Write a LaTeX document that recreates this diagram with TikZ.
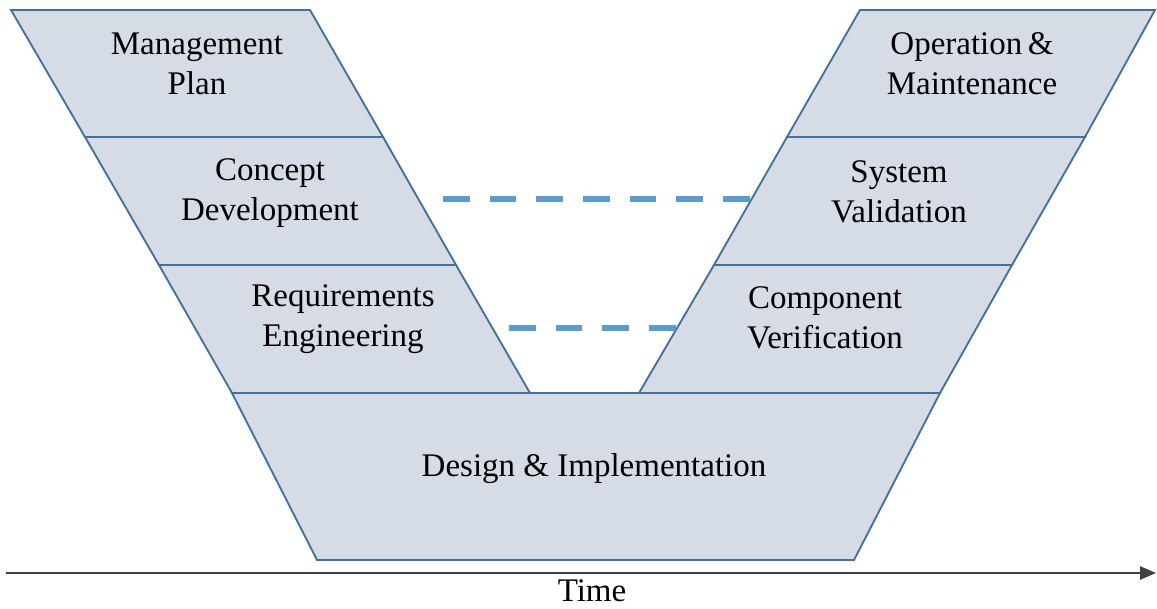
\documentclass[tikz,border=0pt]{standalone}
\usepackage{fontspec}
\setmainfont{Liberation Serif}
\usepackage{xcolor}
\usetikzlibrary{arrows.meta}

\definecolor{stagefill}{HTML}{D6DCE5}
\definecolor{stageline}{HTML}{41719C}
\definecolor{linkblue}{HTML}{5B9BD5}
\definecolor{axisgray}{HTML}{404040}

\begin{document}
\begin{tikzpicture}[
  x=0.75pt, y=-0.75pt,
  stage/.style={
    fill=stagefill,
    draw=stageline,
    line width=1.4pt,
    line join=miter
  },
  stagetext/.style={
    align=center,
    inner sep=0pt,
    font=\fontsize{24.75}{30}\selectfont
  },
  vlink/.style={
    draw=linkblue,
    line width=3.8pt,
    dash pattern=on 20pt off 15pt
  },
  timeaxis/.style={
    -{Triangle[length=12pt,width=10pt]},
    draw=axisgray,
    line width=1.1pt
  }
]

\useasboundingbox (0,0) rectangle (1157,609);

% left branch
\path[stage] (11,10) -- (310,10) -- (383,137) -- (85,137) -- cycle;
\path[stage] (85,137) -- (383,137) -- (456,265) -- (159,265) -- cycle;
\path[stage] (159,265) -- (456,265) -- (530,393) -- (232,393) -- cycle;

% right branch
\path[stage] (860,10) -- (1155,10) -- (1085,137) -- (787,137) -- cycle;
\path[stage] (787,137) -- (1085,137) -- (1012,265) -- (714,265) -- cycle;
\path[stage] (714,265) -- (1012,265) -- (940,393) -- (639,393) -- cycle;

% bottom of the V
\path[stage] (232,393) -- (940,393) -- (854,560) -- (317,560) -- cycle;

\node[stagetext] (mgmt) at (197,64) {Management\\Plan};
\node[stagetext] (concept) at (270,193) {Concept\\Development};
\node[stagetext] (reqs) at (343,319) {Requirements\\Engineering};
\node[stagetext] (ops) at (972,64) {Operation\,\&\\Maintenance};
\node[stagetext] (sysval) at (899,192) {System\\Validation};
\node[stagetext] (compver) at (825,318) {Component\\Verification};
\node[stagetext] (design) at (594,469) {Design \& Implementation};

% verification links across the V
\coordinate (conceptR) at (443,199);
\coordinate (sysvalL) at (750,199);
\coordinate (reqsR) at (509,328);
\coordinate (compverL) at (678,328);
\draw[vlink] (conceptR) -- (sysvalL);
\draw[vlink] (reqsR) -- (compverL);

% time axis
\coordinate (t0) at (6,573);
\coordinate (t1) at (1156,573);
\draw[timeaxis] (t0) -- (t1);
\node[stagetext] (time) at (592,591) {Time};

\end{tikzpicture}
\end{document}
